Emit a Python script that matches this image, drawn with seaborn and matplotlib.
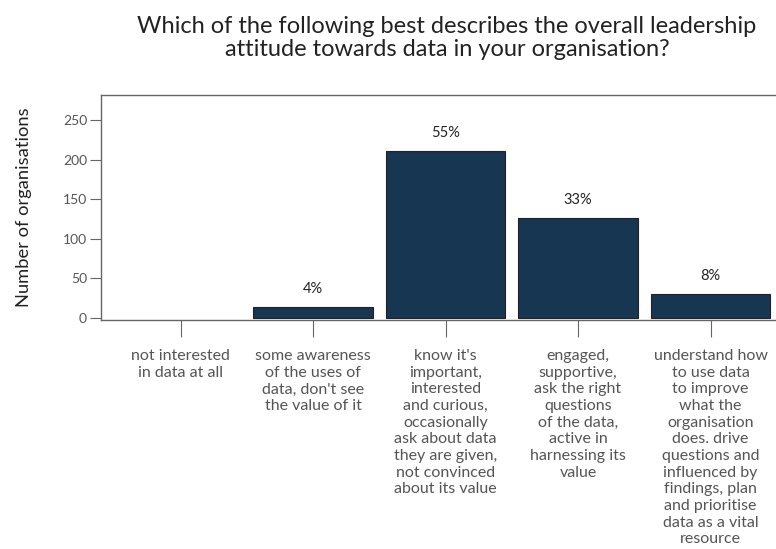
import matplotlib
matplotlib.use("Agg")
import matplotlib.pyplot as plt
import seaborn as sns
import pandas as pd

categories = [
    "not interested\nin data at all",
    "some awareness\nof the uses of\ndata, don't see\nthe value of it",
    "know it's\nimportant,\ninterested\nand curious,\noccasionally\nask about data\nthey are given,\nnot convinced\nabout its value",
    "engaged,\nsupportive,\nask the right\nquestions\nof the data,\nactive in\nharnessing its\nvalue",
    "understand how\nto use data\nto improve\nwhat the\norganisation\ndoes. drive\nquestions and\ninfluenced by\nfindings, plan\nand prioritise\ndata as a vital\nresource",
]
counts = [0, 14, 211, 126, 30]
y_ticks = [0, 50, 100, 150, 200, 250]

title = "Which of the following best describes the overall leadership\nattitude towards data in your organisation?"
y_label = "Number of organisations"

sns.set_theme(style="white")
plt.rcParams["font.family"] = ["Lato", "DejaVu Sans"]

df = pd.DataFrame({"category": categories, "count": counts})

fig = plt.figure(figsize=(7.76, 5.49), dpi=100)
ax = fig.add_axes([101 / 776, 229 / 549, 689 / 776, 225 / 549])

sns.barplot(data=df, x="category", y="count", color="#163652", saturation=1,
            width=0.9, edgecolor="#222222", linewidth=0.8, ax=ax)

# hide the outline of empty bars
for patch in ax.patches:
    if patch.get_height() == 0:
        patch.set_visible(False)

ax.set_xlim(-0.6, 4.6)
ax.set_ylim(-3, 282)
ax.set_yticks(y_ticks)

total = sum(counts)
for i, c in enumerate(counts):
    if c > 0:
        ax.text(i, c + 14, f"{round(100 * c / total)}%", ha="center", va="bottom",
                fontsize=10.5, color="#222222")

for s in ax.spines.values():
    s.set_color("#666666")
    s.set_linewidth(1.0)

ax.tick_params(axis="y", direction="out", length=8, width=0.8, color="#666666",
               labelsize=10, labelcolor="#555555", pad=2, left=True)
ax.tick_params(axis="x", direction="out", length=12, width=0.8, color="#666666",
               labelsize=11.5, labelcolor="#555555", pad=9, bottom=True)
for lbl in ax.get_xticklabels():
    lbl.set_multialignment("center")
    lbl.set_linespacing(1.24)

ax.set_xlabel("")
ax.set_ylabel(y_label, fontsize=13.2, color="#222222", labelpad=22)

fig.text(447 / 776, 1 - 16 / 549, title, ha="center", va="top", fontsize=17,
         color="#222222", linespacing=1.1)

fig.savefig("out.png", dpi=100)
